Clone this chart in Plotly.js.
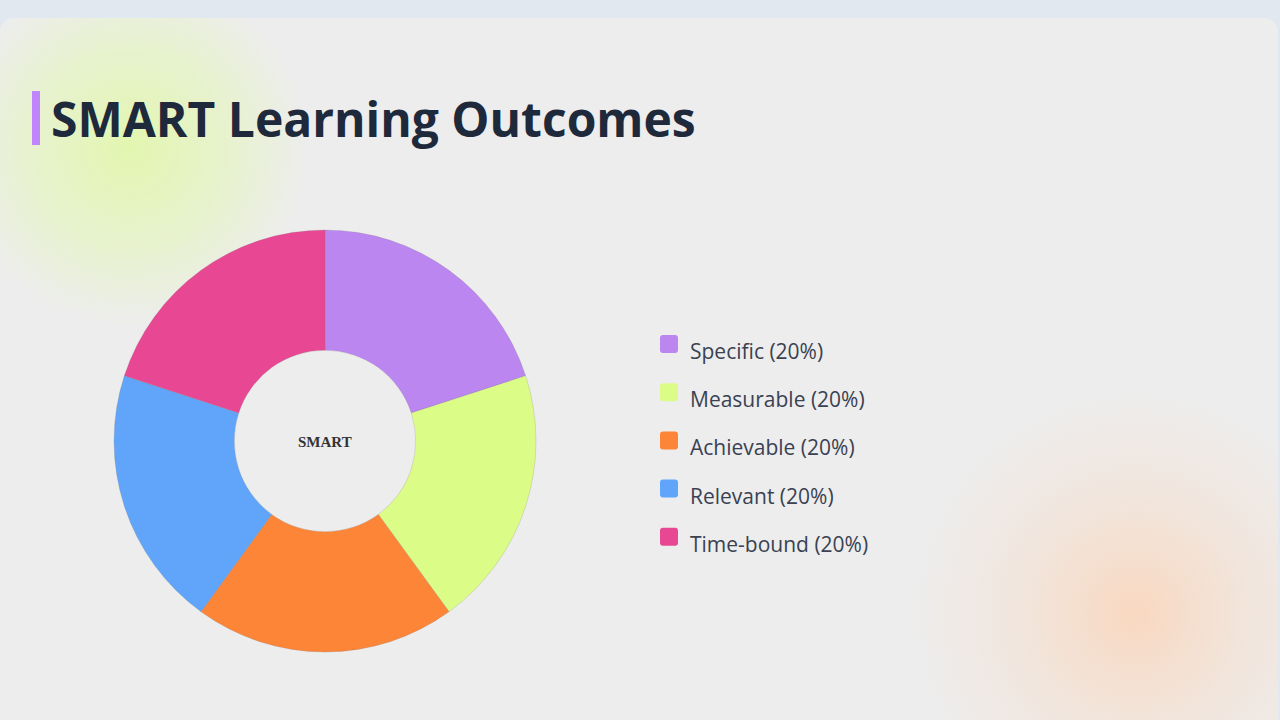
<!DOCTYPE html>
<html>
<head>
<meta charset="utf-8">
<script src="https://cdn.plot.ly/plotly-3.0.1.min.js"></script>
<style>
  html, body { margin: 0; padding: 0; width: 1280px; height: 720px; overflow: hidden; background: #e2e8f0; }
  #panel {
    position: absolute; left: 0; top: 18px; width: 1278px; height: 720px;
    border-radius: 14px; overflow: hidden; background: #ededed;
  }
  #glow-a {
    position: absolute; left: -50px; top: -50px; width: 360px; height: 360px; border-radius: 50%;
    background: radial-gradient(circle, rgba(222,250,150,0.7) 0%, rgba(225,248,170,0.45) 40%, rgba(237,237,237,0) 70%);
  }
  #glow-b {
    position: absolute; left: 910px; top: 370px; width: 450px; height: 450px; border-radius: 50%;
    background: radial-gradient(circle, rgba(250,214,188,0.9) 0%, rgba(245,222,205,0.55) 35%, rgba(237,237,237,0) 70%);
  }
  #chart { position: absolute; left: 0; top: 0; width: 1280px; height: 720px; }
</style>
</head>
<body>
<div id="panel"><div id="glow-a"></div><div id="glow-b"></div></div>
<div id="chart"></div>
<script>
// SMART goal components and their shares
const labels = ["Specific", "Measurable", "Achievable", "Relevant", "Time-bound"];
const values = [20, 20, 20, 20, 20];
const colors = ["#bb86f0", "#dcfc88", "#fd8538", "#60a5fa", "#e84893"];
const centerLabel = "SMART";
const chartTitle = "SMART Learning Outcomes";

const W = 1280, H = 720;
const px = x => x / W;
const py = y => 1 - y / H;

const total = values.reduce((a, b) => a + b, 0);

const trace = {
  type: "pie",
  labels: labels,
  values: values,
  hole: 0.43,
  sort: false,
  direction: "clockwise",
  rotation: 0,
  textinfo: "none",
  hoverinfo: "label+percent",
  marker: { colors: colors, line: { color: "rgba(120,120,120,0.35)", width: 0.6 } },
  domain: { x: [px(114), px(536)], y: [py(652), py(230)] },
  showlegend: false
};

// Rounded square in paper coordinates, given pixel bounds
function roundedSquare(left, top, right, bottom, r) {
  const x0 = px(left), x1 = px(right), yt = py(top), yb = py(bottom);
  const rx = r / W, ry = r / H;
  return `M ${x0 + rx},${yt} L ${x1 - rx},${yt} Q ${x1},${yt} ${x1},${yt - ry} ` +
         `L ${x1},${yb + ry} Q ${x1},${yb} ${x1 - rx},${yb} L ${x0 + rx},${yb} ` +
         `Q ${x0},${yb} ${x0},${yb + ry} L ${x0},${yt - ry} Q ${x0},${yt} ${x0 + rx},${yt} Z`;
}

// Hand-built legend: rounded swatches with label and share
const shapes = [{
  type: "rect", xref: "paper", yref: "paper",
  x0: px(32), x1: px(40), y0: py(145), y1: py(91),
  fillcolor: "#c084fc", line: { width: 0 }
}];
const annotations = [{
  text: "<b>" + centerLabel + "</b>", xref: "paper", yref: "paper",
  x: px(325), y: py(442), xanchor: "center", yanchor: "middle", showarrow: false,
  font: { family: "Liberation Serif, serif", size: 15, color: "#333333" }
}];
labels.forEach((lab, i) => {
  const cy = 344 + i * 48.2;
  shapes.push({
    type: "path", xref: "paper", yref: "paper",
    path: roundedSquare(660, cy - 9, 678, cy + 9, 3),
    fillcolor: colors[i], line: { width: 0 }
  });
  const pct = Math.round(values[i] / total * 100);
  annotations.push({
    text: lab + " (" + pct + "%)", xref: "paper", yref: "paper",
    x: px(688), y: py(cy + 7), xanchor: "left", yanchor: "middle", showarrow: false,
    font: { family: "Open Sans, sans-serif", size: 21, color: "#3a4252" }
  });
});

const layout = {
  width: W, height: H,
  margin: { l: 0, r: 0, t: 0, b: 0 },
  paper_bgcolor: "rgba(0,0,0,0)",
  plot_bgcolor: "rgba(0,0,0,0)",
  title: {
    text: chartTitle,
    x: px(51), xanchor: "left", xref: "paper",
    y: py(120), yanchor: "middle", yref: "paper",
    font: { family: "Open Sans, sans-serif", size: 48, weight: 700, color: "#1e293b" }
  },
  shapes: shapes,
  annotations: annotations
};

Plotly.newPlot("chart", [trace], layout, { displayModeBar: false });
</script>
</body>
</html>
